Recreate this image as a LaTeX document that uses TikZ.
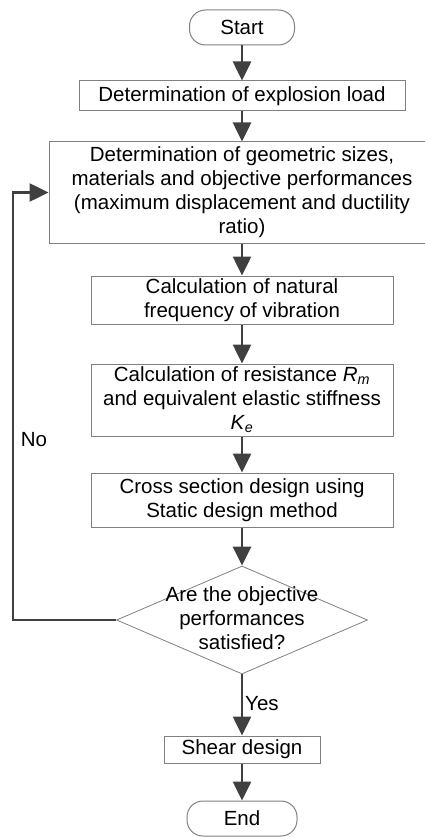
\documentclass[tikz,border=0pt]{standalone}
\usepackage{fontspec}
\setmainfont{Liberation Sans}
\usetikzlibrary{arrows.meta,shapes.geometric}
\definecolor{boxgray}{RGB}{128,128,128}
\definecolor{arrgray}{RGB}{64,64,64}
\begin{document}
\begin{tikzpicture}[x=1pt,y=-1pt,
  txt/.style={font=\fontsize{20.5}{24}\selectfont, align=center, text=black},
  procbox/.style={txt, draw=boxgray, line width=1pt, inner sep=0pt, rectangle},
  term/.style={txt, draw=boxgray, line width=1pt, inner sep=0pt, rectangle, rounded corners=16pt, minimum width=105pt, minimum height=35pt},
  decision/.style={draw=boxgray, line width=0.8pt, diamond, inner sep=0pt, minimum width=251pt, minimum height=108pt},
  flow/.style={draw=arrgray, line width=2.6pt, -{Triangle[width=18pt,length=19pt]}},
  lbl/.style={font=\fontsize{20.5}{24}\selectfont, text=black, inner sep=0pt}
]
\useasboundingbox (0,0) rectangle (424,837);

\node[term] (start) at (242,27.5) {Start};
\node[procbox, minimum width=326pt, minimum height=30pt] (load) at (242,96) {Determination of explosion load};
\node[procbox, minimum width=386pt, minimum height=101pt] (geom) at (242,192.5) {Determination of geometric sizes,\\materials and objective performances\\(maximum displacement and ductility\\ratio)};
\node[procbox, minimum width=302pt, minimum height=48pt] (freq) at (242,300) {Calculation of natural\\frequency of vibration};
\node[procbox, minimum width=302pt, minimum height=72pt] (resist) at (242,400) {Calculation of resistance \textit{R}\textsubscript{\textit{m}}\\and equivalent elastic stiffness\\\textit{K}\textsubscript{\textit{e}}};
\node[procbox, minimum width=302pt, minimum height=54pt] (cross) at (242,500) {Cross section design using\\Static design method};
\node[decision] (dec) at (242,620) {};
\node[txt, inner sep=0pt] (dectext) at (242,618) {Are the objective\\performances\\satisfied?};
\node[procbox, minimum width=156pt, minimum height=27pt] (shear) at (242,749.5) {Shear design};
\node[term, minimum width=110pt] (end) at (242,818.5) {End};

\coordinate (c1) at (13,620);
\coordinate (c2) at (13,192.5);

\draw[flow] (start) -- (load);
\draw[flow] (load) -- (geom);
\draw[flow] (geom) -- (freq);
\draw[flow] (freq) -- (resist);
\draw[flow] (resist) -- (cross);
\draw[flow] (cross) -- (dec.north);
\draw[flow] (dec.south) -- (shear);
\draw[flow] (shear) -- (end);
\draw[flow] (dec.west) -- (c1) -- (c2) -- (geom.west);

\node[lbl] (no) at (34,440) {No};
\node[lbl, anchor=west] (yes) at (245,704) {Yes};
\end{tikzpicture}
\end{document}
